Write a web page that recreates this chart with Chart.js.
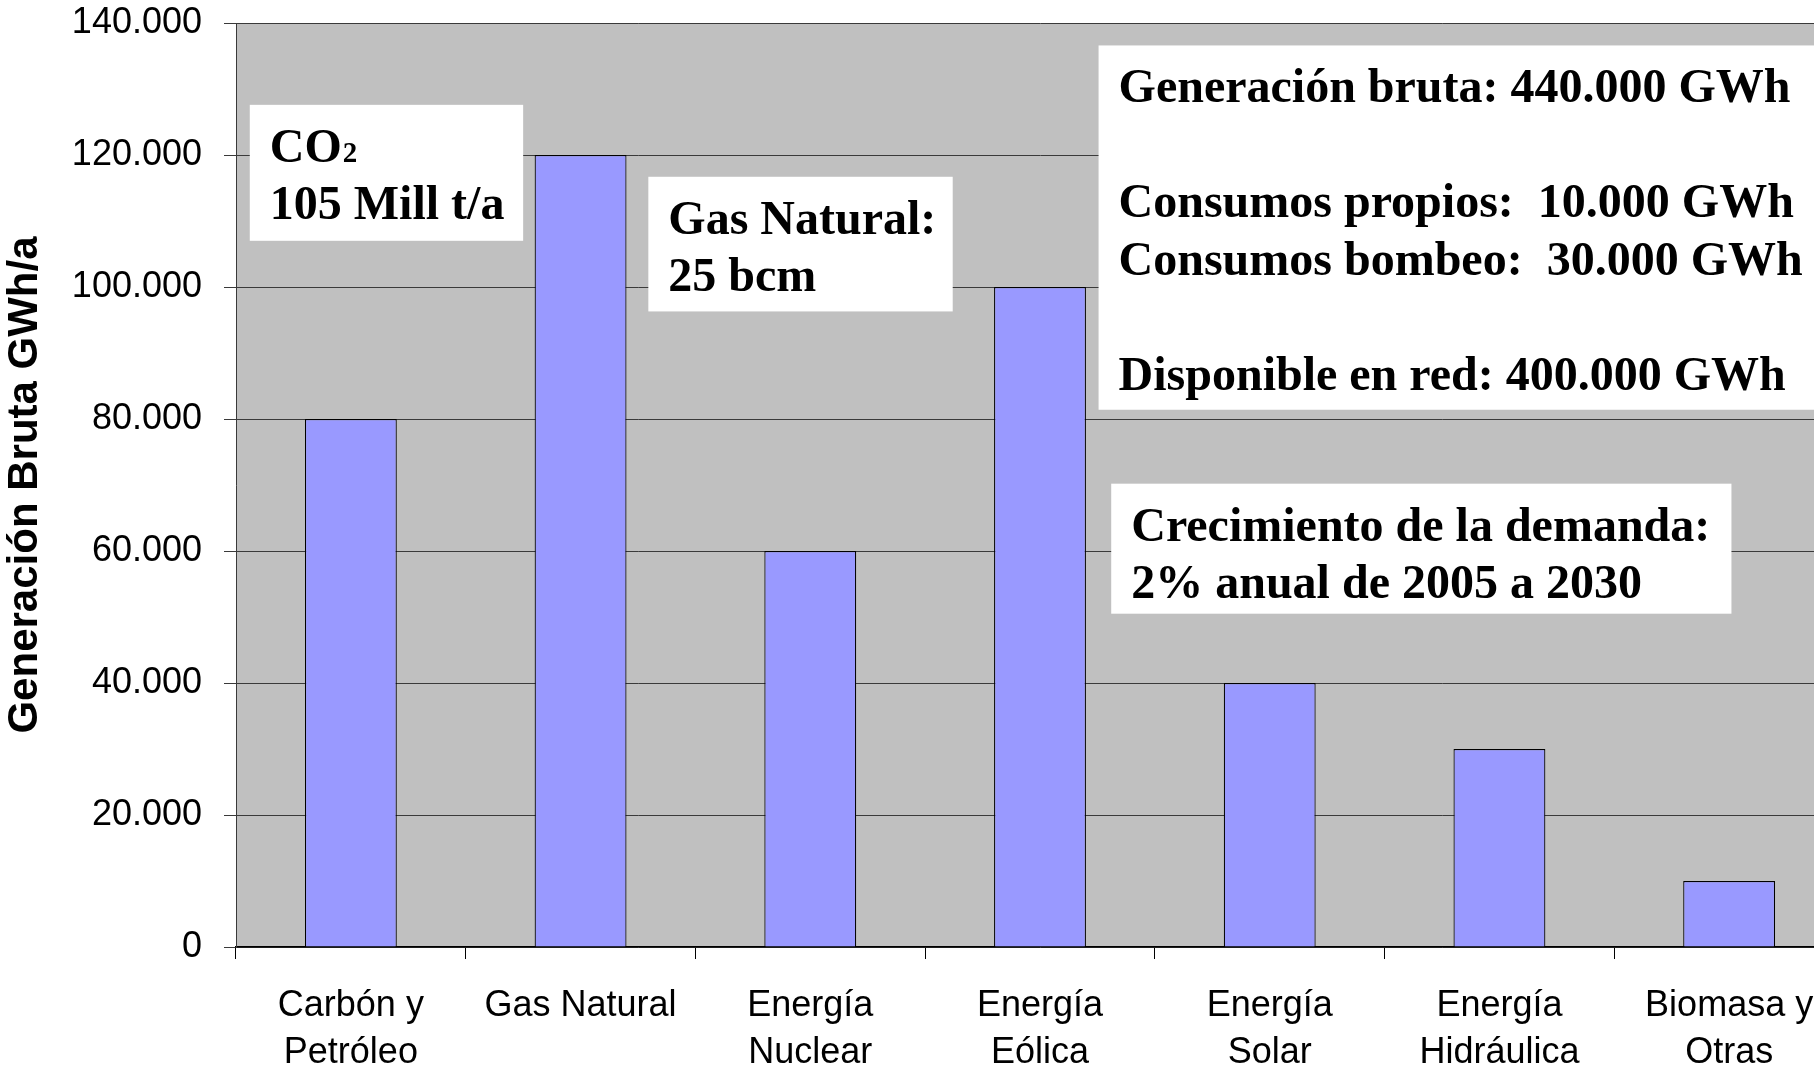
<!doctype html>
<html lang="es">
<head>
<meta charset="utf-8">
<title>Generación Bruta</title>
<script src="https://cdn.jsdelivr.net/npm/chart.js@4.4.1/dist/chart.umd.min.js"></script>
<style>
  html, body { margin: 0; padding: 0; background: #fff; overflow: hidden; }
  /* the plot runs a little past the right edge of the window, like the original */
  #chartContainer { width: 1860px; height: 1066px; }
</style>
</head>
<body>
<div id="chartContainer"><canvas id="myChart"></canvas></div>
<script>
// datos
const categories = [
  ['Carbón y', 'Petróleo'],
  ['Gas Natural'],
  ['Energía', 'Nuclear'],
  ['Energía', 'Eólica'],
  ['Energía', 'Solar'],
  ['Energía', 'Hidráulica'],
  ['Biomasa y', 'Otras']
];
const generation = [80000, 120000, 60000, 100000, 40000, 30000, 10000];
const yAxisTitle = 'Generación Bruta GWh/a';

// textos de los recuadros
const noteCO2 = ['CO₂', '105 Mill t/a'];
const noteGas = ['Gas Natural:', '25 bcm'];
const noteTotals = [
  'Generación bruta: 440.000 GWh',
  '',
  'Consumos propios:  10.000 GWh',
  'Consumos bombeo:  30.000 GWh',
  '',
  'Disponible en red: 400.000 GWh'
];
const noteDemand = ['Crecimiento de la demanda:', '2% anual de 2005 a 2030'];

// where the boxes sit: x in category units (0 = first bar), y in GWh
const noteBoxes = [
  { lines: noteCO2,    x0: -0.44, x1: 0.75, yTop: 127600, yBottom: 107000 },
  { lines: noteGas,    x0: 1.295, x1: 2.62, yTop: 116700, yBottom: 96300 },
  { lines: noteTotals, x0: 3.255, x1: 6.5,  yTop: 136600, yBottom: 81400 },
  { lines: noteDemand, x0: 3.31,  x1: 6.01, yTop: 70200,  yBottom: 50500 }
];

const fmt = v => String(v).replace(/\B(?=(\d{3})+(?!\d))/g, '.');

const plotBackground = {
  id: 'plotBackground',
  beforeDraw(chart) {
    const {ctx, chartArea: a} = chart;
    ctx.save();
    ctx.fillStyle = '#C0C0C0';
    ctx.fillRect(a.left, a.top, a.right - a.left, a.bottom - a.top);
    ctx.restore();
  }
};

const notes = {
  id: 'notes',
  afterDraw(chart) {
    const {ctx, scales: {x, y}} = chart;
    const c0 = x.getPixelForValue(0);
    const catW = x.getPixelForValue(1) - c0;
    noteBoxes.forEach(b => {
      const left = c0 + b.x0 * catW;
      const right = c0 + b.x1 * catW;
      const top = y.getPixelForValue(b.yTop);
      const bottom = y.getPixelForValue(b.yBottom);
      ctx.save();
      ctx.fillStyle = '#fff';
      ctx.fillRect(left, top, right - left, bottom - top);
      ctx.fillStyle = '#000';
      ctx.textBaseline = 'alphabetic';
      ctx.textAlign = 'left';
      b.lines.forEach((line, k) => {
        const by = top + 57 + k * 57.5;
        const parts = line.split('₂');
        ctx.font = 'bold 48px "Liberation Serif", "Times New Roman", serif';
        ctx.fillText(parts[0], left + 20, by);
        if (parts.length > 1) {
          // subíndice
          const w = ctx.measureText(parts[0]).width;
          ctx.font = 'bold 29px "Liberation Serif", "Times New Roman", serif';
          ctx.fillText('2', left + 20 + w + 1, by);
        }
      });
      ctx.restore();
    });
  }
};

new Chart(document.getElementById('myChart'), {
  type: 'bar',
  data: {
    labels: categories,
    datasets: [{
      data: generation,
      backgroundColor: '#9999FF',
      borderColor: '#000',
      borderWidth: 1.2,
      barPercentage: 0.4,
      categoryPercentage: 1
    }]
  },
  options: {
    responsive: true,
    maintainAspectRatio: false,
    animation: false,
    layout: { padding: { top: 23, left: 0, right: 16, bottom: 0 } },
    plugins: { legend: { display: false }, tooltip: { enabled: false } },
    scales: {
      x: {
        afterFit(scale) { scale.height = 119; },
        grid: { drawOnChartArea: false, drawTicks: true, tickLength: 12, tickColor: '#000', offset: true },
        border: { color: '#000', width: 1.5 },
        ticks: {
          color: '#000',
          autoSkip: false,
          maxRotation: 0,
          padding: 24,
          font: { family: '"Liberation Sans", Arial, sans-serif', size: 36, lineHeight: 1.3 }
        }
      },
      y: {
        min: 0,
        max: 140000,
        afterFit(scale) {
          scale.width = 236;
          // the top label may stick out above the plot, as in the original
          scale.paddingTop = 0;
          scale.paddingBottom = 0;
        },
        grid: { color: '#3a3a3a', lineWidth: 1, tickLength: 12, tickColor: '#3a3a3a' },
        border: { color: '#3a3a3a', width: 1 },
        ticks: {
          stepSize: 20000,
          color: '#000',
          padding: 22,
          font: { family: '"Liberation Sans", Arial, sans-serif', size: 36 },
          callback: v => fmt(v)
        },
        title: {
          display: true,
          text: yAxisTitle,
          color: '#000',
          padding: { top: 0, bottom: 0 },
          font: { family: '"Liberation Sans", Arial, sans-serif', size: 42, weight: 'bold' }
        }
      }
    }
  },
  plugins: [plotBackground, notes]
});
</script>
</body>
</html>
